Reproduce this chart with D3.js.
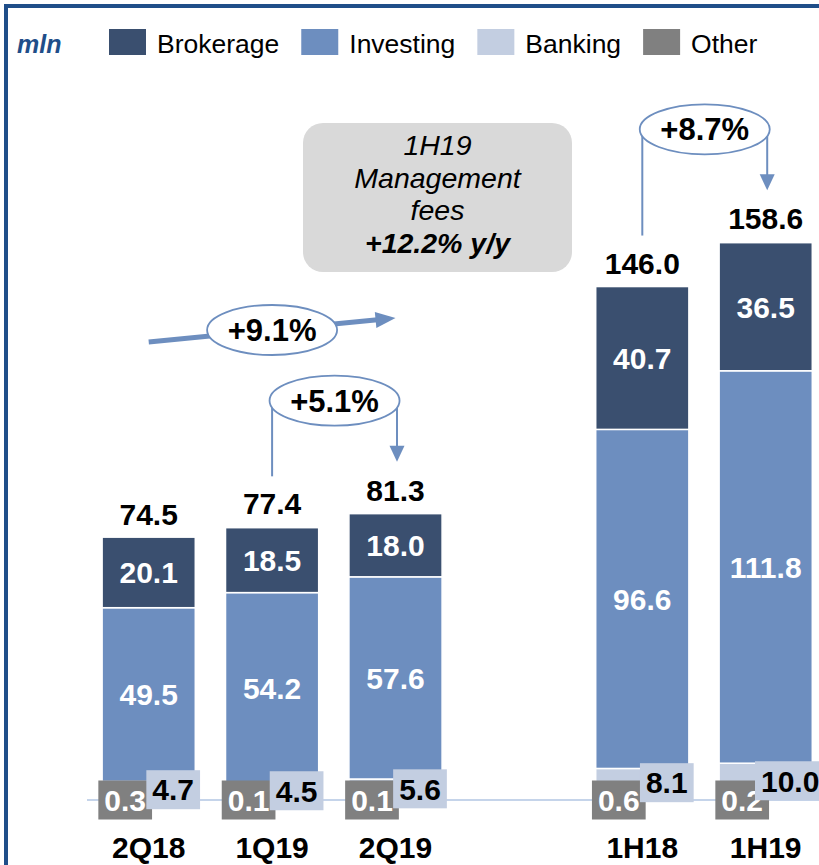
<!DOCTYPE html>
<meta charset="utf-8">
<style>
body { margin: 0; background: #fff; }
svg { font-family: "Liberation Sans", Arial, sans-serif; display: block; }
</style>
<body>
<svg id="chart"></svg>
<script src="https://d3js.org/d3.v7.min.js"></script>
<script>

// values in mln
var periods   = ["2Q18", "1Q19", "2Q19", "1H18", "1H19"];
var brokerage = [20.1, 18.5, 18.0, 40.7, 36.5];
var investing = [49.5, 54.2, 57.6, 96.6, 111.8];
var banking   = [4.7, 4.5, 5.6, 8.1, 10.0];
var other     = [0.3, 0.1, 0.1, 0.6, 0.2];
var totals    = [74.5, 77.4, 81.3, 146.0, 158.6];
var seriesNames = ["Brokerage", "Investing", "Banking", "Other"];
var brackets = [
  {from: "1Q19", to: "2Q19", label: "+5.1%"},
  {from: "1H18", to: "1H19", label: "+8.7%"}
];
var trendLabel = "+9.1%";
var boxLines = ["1H19", "Management", "fees", "+12.2% y/y"];

var width = 819, height = 865;
var color = {Brokerage: "#3a4f6f", Investing: "#6d8ebf", Banking: "#c3cee1", Other: "#808080"};
var accent = "#6d8ebf";
var valueSize = 30;

var svg = d3.select("#chart")
  .attr("width", width)
  .attr("height", height);

var x = d3.scaleBand()
  .domain(["2Q18", "1Q19", "2Q19", "gap", "1H18", "1H19"])
  .range([87, 827.4])
  .paddingInner(0.245)
  .paddingOuter(0.1225);

var y = d3.scaleLinear()
  .domain([0, 160])
  .range([799, 237.4]);

function cx(p) { return x(p) + x.bandwidth() / 2; }

// frame
svg.append("path")
  .attr("d", "M6," + height + "V6H" + width)
  .attr("fill", "none")
  .attr("stroke", "#1f4e89")
  .attr("stroke-width", 4);

// legend
svg.append("text")
  .attr("x", 17).attr("y", 53)
  .attr("font-size", 25)
  .attr("font-weight", "bold")
  .attr("font-style", "italic")
  .attr("fill", "#1f4e89")
  .text("mln");

var lx = 109;
seriesNames.forEach(function(name) {
  svg.append("rect")
    .attr("x", lx).attr("y", 29)
    .attr("width", 37).attr("height", 26)
    .attr("fill", color[name]);
  var t = svg.append("text")
    .attr("x", lx + 48).attr("y", 53)
    .attr("font-size", 26.5)
    .text(name);
  lx = lx + 48 + t.node().getComputedTextLength() + 22;
});

// stacked bars
var rows = periods.map(function(p, i) {
  return {period: p, Other: other[i], Banking: banking[i], Investing: investing[i], Brokerage: brokerage[i]};
});
var series = d3.stack().keys(["Other", "Banking", "Investing", "Brokerage"])(rows);

svg.selectAll(".layer")
  .data(series)
  .enter().append("g")
    .attr("class", "layer")
    .attr("fill", function(s) { return color[s.key]; })
  .selectAll("rect")
  .data(function(s) { return s; })
  .enter().append("rect")
    .attr("x", function(d) { return x(d.data.period); })
    .attr("y", function(d) { return y(d[1]); })
    .attr("width", x.bandwidth())
    .attr("height", function(d) { return y(d[0]) - y(d[1]); })
    .attr("stroke", "#fff")
    .attr("stroke-width", 1.5);

// baseline
svg.append("line")
  .attr("x1", 87).attr("x2", width)
  .attr("y1", y(0) + 1).attr("y2", y(0) + 1)
  .attr("stroke", "#c5d4ea")
  .attr("stroke-width", 2);

// labels inside big segments
series.filter(function(s) { return s.key === "Investing" || s.key === "Brokerage"; })
  .forEach(function(s) {
    svg.selectAll(null)
      .data(s)
      .enter().append("text")
        .attr("x", function(d) { return cx(d.data.period); })
        .attr("y", function(d) { return (y(d[0]) + y(d[1])) / 2; })
        .attr("dy", "0.36em")
        .attr("text-anchor", "middle")
        .attr("font-size", valueSize)
        .attr("font-weight", "bold")
        .attr("fill", "#fff")
        .text(function(d) { return (d[1] - d[0]).toFixed(1); });
  });

// boxed labels for the small segments
function boxLabel(px, py, txt, fill, textFill) {
  var g = svg.append("g");
  var r = g.append("rect").attr("fill", fill);
  var t = g.append("text")
    .attr("x", px).attr("y", py)
    .attr("dy", "0.36em")
    .attr("text-anchor", "middle")
    .attr("font-size", valueSize)
    .attr("font-weight", "bold")
    .attr("fill", textFill)
    .text(txt);
  var w = t.node().getComputedTextLength() + 12;
  r.attr("x", px - w / 2).attr("y", py - 19.5).attr("width", w).attr("height", 39);
}

periods.forEach(function(p, i) {
  boxLabel(cx(p) - 23.5, y(0) + 1, other[i].toFixed(1), color.Other, "#fff");
});
series[1].forEach(function(d) {
  boxLabel(cx(d.data.period) + 24.5, (y(d[0]) + y(d[1])) / 2, (d[1] - d[0]).toFixed(1), color.Banking, "#000");
});

// totals
svg.selectAll(".total")
  .data(periods)
  .enter().append("text")
    .attr("class", "total")
    .attr("x", function(p) { return cx(p); })
    .attr("y", function(p, i) { return y(totals[i]) - 13; })
    .attr("text-anchor", "middle")
    .attr("font-size", valueSize)
    .attr("font-weight", "bold")
    .text(function(p, i) { return totals[i].toFixed(1); });

// category labels
svg.selectAll(".cat")
  .data(periods)
  .enter().append("text")
    .attr("class", "cat")
    .attr("x", function(p) { return cx(p); })
    .attr("y", 858)
    .attr("text-anchor", "middle")
    .attr("font-size", 30)
    .attr("font-weight", "bold")
    .text(function(p) { return p; });

// growth ellipse
function bubble(ex, ey, txt) {
  svg.append("ellipse")
    .attr("cx", ex).attr("cy", ey)
    .attr("rx", 65).attr("ry", 25)
    .attr("fill", "#fff")
    .attr("stroke", accent)
    .attr("stroke-width", 1.8);
  svg.append("text")
    .attr("x", ex).attr("y", ey)
    .attr("dy", "0.36em")
    .attr("text-anchor", "middle")
    .attr("font-size", 31)
    .attr("font-weight", "bold")
    .text(txt);
}

// trend arrow across the quarters
var ax0 = cx("2Q18"), ay0 = 342, ax1 = cx("2Q19"), ay1 = 318;
var len = Math.hypot(ax1 - ax0, ay1 - ay0);
var ux = (ax1 - ax0) / len, uy = (ay1 - ay0) / len;
svg.append("line")
  .attr("x1", ax0).attr("y1", ay0)
  .attr("x2", ax1 - ux * 18).attr("y2", ay1 - uy * 18)
  .attr("stroke", accent)
  .attr("stroke-width", 5);
svg.append("path")
  .attr("d", "M" + ax1 + "," + ay1 +
    "L" + (ax1 - ux * 20 - uy * 8) + "," + (ay1 - uy * 20 + ux * 8) +
    "L" + (ax1 - ux * 20 + uy * 8) + "," + (ay1 - uy * 20 - ux * 8) + "Z")
  .attr("fill", accent);
bubble(cx("1Q19"), 330, trendLabel);

// period-on-period brackets
brackets.forEach(function(b) {
  var ia = periods.indexOf(b.from), ib = periods.indexOf(b.to);
  var xa = cx(b.from), xb = cx(b.to) + 1.5;
  var ey = y(Math.max(totals[ia], totals[ib])) - 113;
  var tip = y(totals[ib]) - 52;
  svg.append("line")
    .attr("x1", xa).attr("x2", xa)
    .attr("y1", ey).attr("y2", y(totals[ia]) - 51)
    .attr("stroke", accent).attr("stroke-width", 2);
  svg.append("line")
    .attr("x1", xb).attr("x2", xb)
    .attr("y1", ey).attr("y2", tip - 14)
    .attr("stroke", accent).attr("stroke-width", 2);
  svg.append("path")
    .attr("d", "M" + xb + "," + tip + "L" + (xb - 7.5) + "," + (tip - 16) + "L" + (xb + 7.5) + "," + (tip - 16) + "Z")
    .attr("fill", accent);
  bubble((xa + xb) / 2, ey, b.label);
});

// note box
svg.append("rect")
  .attr("x", 303).attr("y", 123)
  .attr("width", 269).attr("height", 149)
  .attr("rx", 20)
  .attr("fill", "#d9d9d9");
svg.selectAll(".note")
  .data(boxLines)
  .enter().append("text")
    .attr("class", "note")
    .attr("x", 437.5)
    .attr("y", function(d, i) { return 155 + i * 32.7; })
    .attr("text-anchor", "middle")
    .attr("font-size", 28.5)
    .attr("font-style", "italic")
    .attr("font-weight", function(d, i) { return i === boxLines.length - 1 ? "bold" : "normal"; })
    .text(function(d) { return d; });

</script>
</body>
